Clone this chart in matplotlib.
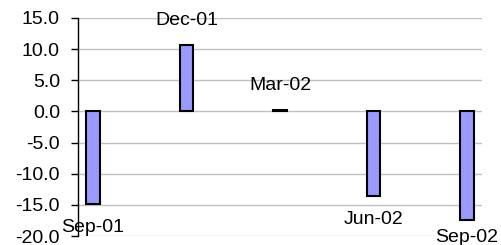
import numpy as np
import matplotlib.pyplot as plt

plt.rcParams['font.family'] = ['Liberation Sans', 'DejaVu Sans']

labels = ['Sep-01', 'Dec-01', 'Mar-02', 'Jun-02', 'Sep-02']
values = [-14.8, 10.7, 0.3, -13.5, -17.4]

fig = plt.figure(figsize=(5.02, 2.45), dpi=100)
ax = fig.add_axes([78 / 502, 1 - 236 / 245, 404 / 502, 218 / 245])

x = np.arange(len(values))
ax.bar(x, values, width=0.14, color='#9999FF', edgecolor='black', linewidth=1.5, zorder=3)

ax.set_xlim(-0.16, 4.16)
ax.set_ylim(-20, 15)
fig.canvas.draw()

# labels sit ~24 px past the bar end, kept inside the figure
for xi, v, lab in zip(x, values, labels):
    px, py = ax.transData.transform((xi, v))
    if v >= 0:
        ty = py + 24
    else:
        ty = max(py - 24, 8)
    fig.text(px / 502, ty / 245, lab, ha='center', va='center', fontsize=14)

ax.set_yticks(np.arange(-20, 16, 5))
ax.set_yticklabels([f'{t:.1f}' for t in np.arange(-20, 16, 5)], fontsize=14)
ax.set_xticks([])
ax.yaxis.grid(True, color='#c0c0c0', linewidth=1)
ax.set_axisbelow(True)
for s in ['top', 'right', 'bottom']:
    ax.spines[s].set_visible(False)
ax.spines['left'].set_linewidth(1)
ax.tick_params(axis='y', direction='out', length=5, width=1, pad=8)

fig.savefig('out.png', dpi=100)
